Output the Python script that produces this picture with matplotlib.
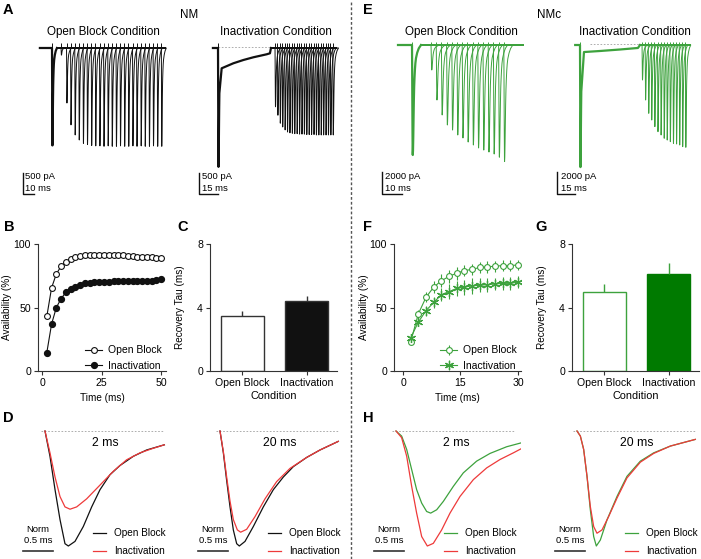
import matplotlib
matplotlib.use("Agg")
import matplotlib.pyplot as plt  # noqa: E402
import numpy as np  # noqa: E402
from matplotlib.lines import Line2D  # noqa: E402

plt.rcParams["font.family"] = ["Liberation Sans", "DejaVu Sans"]

W, H = 701, 559

BLACK = "#111111"
RED = "#ee3a3a"
GREEN = "#3da23d"
DKGREEN = "#007a00"
AXIS = "#333333"
BASE = "#a0a0a0"

# --- B: availability vs interval, NM ---
B_T = [2, 4, 6, 8, 10, 12, 14, 16, 18, 20, 22, 24, 26, 28, 30, 32, 34, 36, 38,
       40, 42, 44, 46, 48, 50]
B_OPEN = [43, 65.5, 76.5, 82.5, 86, 88, 89.5, 90.5, 91, 91, 91.5, 91.5, 91.5,
          91.5, 91.5, 91.5, 91, 90.5, 90.5, 90, 90, 89.5, 89.5, 89, 89]
B_INACT = [14.5, 37, 50, 57, 62, 64.5, 66.5, 68, 69, 69.5, 70, 70, 70, 70, 70.5,
           71, 71, 71, 71, 71, 71, 71, 71, 71.5, 72.5]

# --- F: availability vs interval, NMc ---
F_T = [2, 4, 6, 8, 10, 12, 14, 16, 18, 20, 22, 24, 26, 28, 30]
F_OPEN = [23, 45, 58, 66, 71, 74.5, 77, 79, 80, 81.5, 82, 82.5, 83, 83, 83.5]
F_OPEN_SEM = [2, 3, 4, 4.5, 5, 5, 5, 4.5, 4.5, 4.5, 4.5, 4.5, 4.5, 4.5, 4]
F_INACT = [26, 38.5, 47.5, 54, 60, 62.5, 65, 66, 67, 67.5, 68, 68.5, 69, 69, 70]
F_INACT_SEM = [2, 3, 4, 4.5, 5, 6, 6, 6, 6, 5.5, 5.5, 5, 5, 5, 5]

# --- C / G: recovery tau ---
CONDITIONS = ["Open Block", "Inactivation"]
C_TAU = [3.45, 4.43]
C_SEM = [0.32, 0.29]
G_TAU = [4.98, 6.08]
G_SEM = [0.5, 0.7]

# --- D: normalised EPSCs (ms, fraction of peak) ---
DL_OB_T = [0, 0.083, 0.167, 0.25, 0.333, 0.389, 0.5, 0.639, 0.778, 0.917, 1.083,
           1.25, 1.472, 1.694, 1.989]
DL_OB_Y = [0, -0.22, -0.51, -0.77, -0.98, -1.0, -0.96, -0.83, -0.66, -0.51,
           -0.38, -0.30, -0.22, -0.165, -0.12]
DL_IN_T = [0, 0.083, 0.167, 0.25, 0.333, 0.417, 0.528, 0.694, 0.917, 1.139,
           1.361, 1.583, 1.806, 1.989]
DL_IN_Y = [0, -0.19, -0.40, -0.57, -0.66, -0.68, -0.66, -0.59, -0.47, -0.35,
           -0.25, -0.19, -0.15, -0.12]
DR_OB_T = [0, 0.056, 0.111, 0.167, 0.222, 0.278, 0.322, 0.417, 0.556, 0.722,
           0.889, 1.056, 1.222, 1.444, 1.667, 1.972]
DR_OB_Y = [0, -0.19, -0.43, -0.66, -0.86, -0.98, -1.0, -0.96, -0.83, -0.66,
           -0.51, -0.40, -0.31, -0.23, -0.165, -0.09]
DR_IN_T = [0, 0.056, 0.111, 0.167, 0.222, 0.289, 0.344, 0.444, 0.583, 0.75,
           0.944, 1.167, 1.444, 1.667, 1.972]
DR_IN_Y = [0, -0.18, -0.40, -0.61, -0.77, -0.86, -0.88, -0.855, -0.745, -0.59,
           -0.44, -0.325, -0.23, -0.165, -0.09]

# --- H: normalised EPSCs, NMc ---
HL_OB_T = [0, 0.094, 0.178, 0.261, 0.344, 0.428, 0.511, 0.578, 0.678, 0.789,
           0.956, 1.122, 1.344, 1.567, 1.844, 2.094]
HL_OB_Y = [0, -0.044, -0.16, -0.335, -0.51, -0.627, -0.70, -0.714, -0.685,
           -0.612, -0.481, -0.364, -0.262, -0.195, -0.137, -0.102]
HL_IN_T = [0, 0.094, 0.178, 0.261, 0.344, 0.428, 0.522, 0.622, 0.761, 0.90,
           1.067, 1.289, 1.511, 1.733, 1.956, 2.094]
HL_IN_Y = [0, -0.058, -0.219, -0.481, -0.714, -0.918, -1.0, -0.977, -0.86,
           -0.714, -0.569, -0.423, -0.321, -0.248, -0.19, -0.152]
HR_OB_T = [0, 0.056, 0.111, 0.167, 0.222, 0.278, 0.322, 0.389, 0.5, 0.667,
           0.833, 1.056, 1.278, 1.556, 1.972]
HR_OB_Y = [0, -0.044, -0.16, -0.394, -0.685, -0.918, -1.0, -0.948, -0.773,
           -0.569, -0.394, -0.262, -0.19, -0.131, -0.073]
HR_IN_T = [0, 0.056, 0.111, 0.167, 0.222, 0.278, 0.333, 0.417, 0.528, 0.667,
           0.833, 1.056, 1.278, 1.556, 1.972]
HR_IN_Y = [0, -0.044, -0.16, -0.394, -0.656, -0.831, -0.889, -0.86, -0.743,
           -0.583, -0.408, -0.271, -0.195, -0.131, -0.073]

# EPSC tail beyond the D window, used to close the train sweeps
TAIL_T = [2.6, 3.4, 4.5]
TAIL_Y = [-0.07, -0.03, 0]

# --- A: NM trains (ms, pA) ---
AL_COND = 2320
AL_TEST_T = [8.2, 13.2, 16.9, 20.7, 24.4, 28.2, 31.9, 35.7, 39.4, 43.2, 46.9,
             50.7, 54.4, 58.2, 61.9, 65.7, 69.4, 73.2, 76.9, 80.7, 84.4, 88.2,
             91.9, 95.7, 99.4]
AL_TEST_AMP = [170, 1310, 1830, 2070, 2190, 2270, 2300, 2320, 2330, 2330, 2340,
               2330, 2340, 2340, 2330, 2340, 2340, 2330, 2340, 2330, 2340, 2340,
               2330, 2340, 2340]
AR_COND = 2830
AR_HOLD_T = [2.9, 12.1, 20.0, 27.9, 38.4, 41.0]
AR_HOLD_I = [-483, -364, -286, -221, -150, -126]
AR_STEP = 41.8
AR_TEST_T = [45.0, 46.9, 48.8, 50.7, 52.6, 54.5, 56.4, 58.3, 60.2, 62.1, 64.0,
             65.9, 67.8, 69.7, 71.6, 73.5, 75.4, 77.3, 79.2, 81.1, 83.0, 84.9,
             86.8, 88.7, 90.6]
AR_TEST_AMP = [1400, 1600, 1790, 1880, 1950, 2000, 2020, 2030, 2040, 2040, 2050,
               2050, 2050, 2060, 2060, 2060, 2060, 2070, 2070, 2070, 2070, 2070,
               2070, 2070, 2070]

# --- E: NMc trains (ms, pA) ---
EL_COND = 10000
EL_TEST_T = [9.5, 12.1, 14.7, 17.3, 19.9, 22.5, 25.1, 27.7, 30.3, 32.9, 35.5,
             38.1, 40.7, 43.3, 45.9]
EL_TEST_AMP = [2270, 5000, 6360, 7270, 7730, 8180, 8450, 8820, 9090, 9360, 9550,
               9730, 9910, 10200, 10600]
ER_COND = 11100
ER_HOLD_T = [3.3, 16.7, 33.3, 48.3]
ER_HOLD_I = [-640, -545, -410, -270]
ER_STEP = 50.0
ER_TEST_T = [51.7, 54.3, 56.9, 59.4, 62.0, 64.6, 67.2, 69.8, 72.3, 74.9, 77.5,
             80.1, 82.7, 85.2, 87.8]
ER_TEST_AMP = [3180, 5000, 6210, 6820, 7420, 7880, 8180, 8480, 8640, 8790, 8940,
               9000, 9090, 9240, 9300]

fig = plt.figure(figsize=(W / 100, H / 100), dpi=100)


def px_axes(x0, y0, x1, y1):
    return fig.add_axes([x0 / W, 1 - y1 / H, (x1 - x0) / W, (y1 - y0) / H])


def ftext(x, y, s, **kw):
    fig.text(x / W, 1 - y / H, s, **kw)


def trace_axes(box, t0_px, base_px, px_ms, px_pa):
    x0, y0, x1, y1 = box
    ax = px_axes(*box)
    ax.set_xlim((x0 - t0_px) / px_ms, (x1 - t0_px) / px_ms)
    ax.set_ylim(-(y1 - base_px) / px_pa, (base_px - y0) / px_pa)
    ax.axis("off")
    return ax


TPL_T = np.array(DL_OB_T + TAIL_T)
TPL_Y = np.array(DL_OB_Y + TAIL_Y)


def draw_train(ax, color, cond, test_t, test_amp, t_start, t_end, art,
               hold_t=None, hold_i=None, step=None):
    if hold_t is None:
        xs = [t_start] + list(TPL_T)
        ys = [0] + list(cond * TPL_Y)
        pre_end = TPL_T[-1]
    else:
        keep = TPL_T <= 1.1
        xs = [t_start] + list(TPL_T[keep]) + hold_t + [step]
        ys = [0] + list(cond * TPL_Y[keep]) + hold_i + [0]
        pre_end = step
    ax.plot(xs, ys, color=color, lw=1.6, solid_joinstyle="round")
    for t_on, amp in zip(test_t, test_amp):
        x = [pre_end] + list(t_on + TPL_T) + [t_end]
        y = [0] + list(amp * TPL_Y) + [0]
        ax.plot(x, y, color=color, lw=0.7)
    ax.vlines([0] + list(test_t), 0, art, color=color, lw=0.7)


def scale_bar(ax, t, i, dt, di, lab1, lab2, tx, color=BLACK):
    ax.plot([t, t, t + dt], [i + di, i, i], color=color, lw=1.0)
    ax.text(tx, i + di * 0.81, lab1, fontsize=6.8, ha="left", va="center")
    ax.text(tx, i + di * 0.24, lab2, fontsize=6.8, ha="left", va="center")


# ---------------- A ----------------
ax = trace_axes((15, 38, 172, 200), 52, 48, 1.1, 0.042)
draw_train(ax, BLACK, AL_COND, AL_TEST_T, AL_TEST_AMP, -11, 103, 120)
scale_bar(ax, -26.4, -3476, 10, 500, "500 pA", "10 ms", -24.5)

ax = trace_axes((190, 38, 345, 200), 218, 48, 1.267, 0.042)
ax.plot([0, 92], [25, 25], color=BASE, lw=0.6, ls=(0, (2, 2)))
draw_train(ax, BLACK, AR_COND, AR_TEST_T, AR_TEST_AMP, -4, 93, 120,
           AR_HOLD_T, AR_HOLD_I, AR_STEP)
scale_bar(ax, -15, -3476, 15, 500, "500 pA", "15 ms", -12.8)

# ---------------- E ----------------
ax = trace_axes((365, 35, 530, 200), 412, 45, 2.0, 0.011)
draw_train(ax, GREEN, EL_COND, EL_TEST_T, EL_TEST_AMP, -7, 55.5, 250)
scale_bar(ax, -15, -13545, 10, 2000, "2000 pA", "10 ms", -13.5)

ax = trace_axes((545, 35, 700, 200), 580, 45, 1.2, 0.011)
ax.plot([8, 92], [60, 60], color=BASE, lw=0.6, ls=(0, (2, 2)))
draw_train(ax, GREEN, ER_COND, ER_TEST_T, ER_TEST_AMP, -4, 92, 250,
           ER_HOLD_T, ER_HOLD_I, ER_STEP)
scale_bar(ax, -19.2, -13545, 15, 2000, "2000 pA", "15 ms", -15.8)


# ---------------- B / F ----------------
def style_axes(ax):
    for s in ("top", "right"):
        ax.spines[s].set_visible(False)
    for s in ("left", "bottom"):
        ax.spines[s].set_color(AXIS)
        ax.spines[s].set_linewidth(0.8)
    ax.tick_params(direction="out", length=3, width=0.8, color=AXIS,
                   labelsize=7.6, pad=2)


LEG = dict(loc="lower right", bbox_to_anchor=(1.0, -0.03), frameon=False,
           fontsize=7.5, handlelength=1.6, handletextpad=0.6, labelspacing=0.5,
           borderaxespad=0)

ax = px_axes(38, 244, 166, 371)
style_axes(ax)
ax.plot(B_T, B_OPEN, color=BLACK, lw=0.8, marker="o", ms=4.2, mfc="white",
        mec=BLACK, mew=0.8, label="Open Block")
ax.plot(B_T, B_INACT, color=BLACK, lw=0.8, marker="o", ms=4.2, mfc=BLACK,
        mec=BLACK, label="Inactivation")
ax.set_xlim(-1.7, 52)
ax.set_ylim(0, 100)
ax.set_xticks([0, 25, 50])
ax.set_yticks([0, 50, 100])
ax.set_xlabel("Time (ms)", fontsize=7.2)
ax.set_ylabel("Availability (%)", fontsize=7.2)
ax.xaxis.set_label_coords(0.5, -0.17)
ax.yaxis.set_label_coords(-0.2, 0.5)
ax.legend(**LEG)

ax = px_axes(394, 244, 521, 371)
style_axes(ax)
ax.errorbar(F_T, F_OPEN, yerr=F_OPEN_SEM, color=GREEN, lw=0.8, elinewidth=0.8,
            capsize=0, marker="o", ms=4.2, mfc="white", mec=GREEN, mew=0.8,
            label="Open Block")
ax.errorbar(F_T, F_INACT, yerr=F_INACT_SEM, color=GREEN, lw=0.8,
            elinewidth=0.8, capsize=0, marker=(6, 2, 0), ms=6.5, mec=GREEN,
            mew=0.9, label="Inactivation")
ax.set_xlim(-2.35, 30.8)
ax.set_ylim(0, 100)
ax.set_xticks([0, 15, 30])
ax.set_yticks([0, 50, 100])
ax.set_xlabel("Time (ms)", fontsize=7.2)
ax.set_ylabel("Availability (%)", fontsize=7.2)
ax.xaxis.set_label_coords(0.5, -0.17)
ax.yaxis.set_label_coords(-0.2, 0.5)
ax.legend(**LEG)


# ---------------- C / G ----------------
def tau_bars(box, vals, sems, face, edge, ecolor):
    ax = px_axes(*box)
    style_axes(ax)
    x = np.arange(len(vals))
    ax.bar(x, vals, width=0.66, color=face, edgecolor=edge, linewidth=1.0)
    ax.errorbar(x, vals, yerr=[[0, 0], sems], fmt="none", ecolor=ecolor,
                elinewidth=1.0, capsize=0)
    ax.set_xlim(-0.5, 1.47)
    ax.set_ylim(0, 8)
    ax.set_yticks([0, 4, 8])
    ax.set_xticks(x)
    ax.set_xticklabels(CONDITIONS)
    ax.set_xlabel("Condition", fontsize=7.8)
    ax.set_ylabel("Recovery Tau (ms)", fontsize=7.2)
    ax.xaxis.set_label_coords(0.5, -0.16)
    ax.yaxis.set_label_coords(-0.2, 0.5)
    return ax


tau_bars((210, 244, 337, 371), C_TAU, C_SEM, ["white", BLACK], AXIS, AXIS)
tau_bars((572, 244, 699, 371), G_TAU, G_SEM, ["white", DKGREEN],
         [GREEN, DKGREEN], GREEN)


# ---------------- D / H ----------------
def norm_panel(start_px, label, traces, names):
    ax = trace_axes((start_px - 30, 424, start_px + 125, 557), start_px, 431,
                    60.0, 115.0)
    ax.plot([-0.07, 1.99], [0, 0], color=BASE, lw=0.6, ls=(0, (2, 2)))
    for (t, y, c) in traces:
        ax.plot(t, y, color=c, lw=0.9)
    ax.text(1.0, -0.10, label, fontsize=8.8, ha="center", va="center")
    ax.plot([-0.367, 0.133], [-1.043, -1.043], color=AXIS, lw=1.2)
    ax.text(-0.12, -0.855, "Norm", fontsize=6.8, ha="center", va="center")
    ax.text(-0.12, -0.95, "0.5 ms", fontsize=6.8, ha="center", va="center")
    for (t, y, c), name, yy in zip(traces, names, (-0.887, -1.043)):
        ax.plot([0.80, 1.01], [yy, yy], color=c, lw=0.9)
        ax.text(1.15, yy, name, fontsize=7.2, ha="left", va="center")


norm_panel(45, "2 ms", [(DL_OB_T, DL_OB_Y, BLACK), (DL_IN_T, DL_IN_Y, RED)],
           CONDITIONS)
norm_panel(220, "20 ms", [(DR_OB_T, DR_OB_Y, BLACK), (DR_IN_T, DR_IN_Y, RED)],
           CONDITIONS)
norm_panel(396, "2 ms", [(HL_OB_T, HL_OB_Y, GREEN), (HL_IN_T, HL_IN_Y, RED)],
           CONDITIONS)
norm_panel(577, "20 ms", [(HR_OB_T, HR_OB_Y, GREEN), (HR_IN_T, HR_IN_Y, RED)],
           CONDITIONS)

# ---------------- labels ----------------
for lab, x, y in (("A", 3, 10), ("B", 4, 227), ("C", 177, 227), ("D", 3, 418),
                  ("E", 363, 10), ("F", 363, 227), ("G", 535, 227),
                  ("H", 363, 418)):
    ftext(x, y, lab, fontsize=10.5, fontweight="bold", ha="left", va="center")

ftext(189, 15, "NM", fontsize=8.4, ha="center", va="center")
ftext(549, 15, "NMc", fontsize=8.4, ha="center", va="center")
for x, s in ((103.5, "Open Block Condition"), (276, "Inactivation Condition"),
             (461, "Open Block Condition"), (635, "Inactivation Condition")):
    ftext(x, 32, s, fontsize=8.4, ha="center", va="center")

fig.add_artist(Line2D([351 / W, 351 / W], [0, 1], transform=fig.transFigure,
                      color="#555555", lw=1.0, ls=(0, (2, 1.5))))

fig.savefig("out.png", dpi=100)
